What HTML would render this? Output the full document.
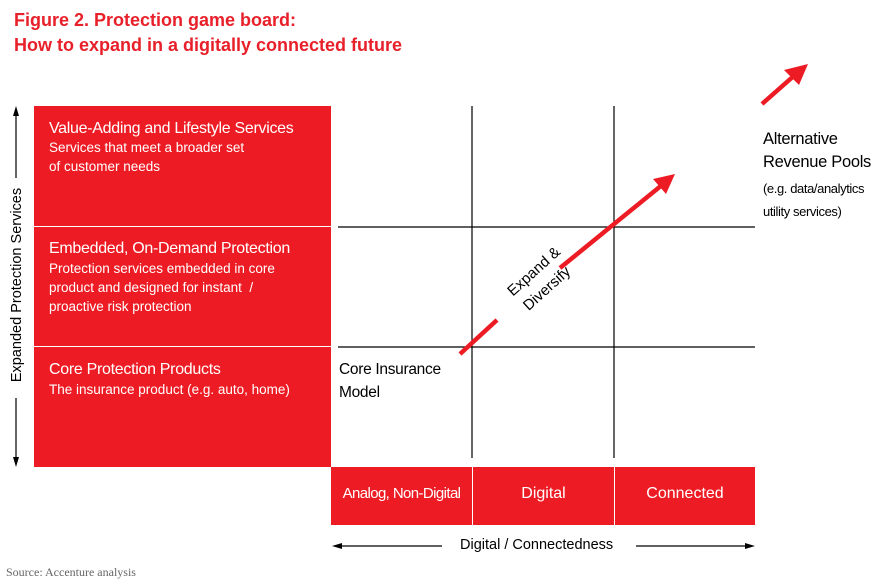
<!DOCTYPE html>
<html><head><meta charset="utf-8"><style>
body{margin:0;width:886px;height:584px;background:#fff;position:relative;overflow:hidden;font-family:"Liberation Sans",sans-serif;}
.a{position:absolute;white-space:nowrap}
.t{color:#e8202a;font-weight:bold;font-size:18px;left:14px}
.w{color:#fff}
.h{font-size:16px;letter-spacing:-0.3px}
.s{font-size:13.5px;line-height:19px}
</style></head><body>
<div class="a t" style="top:10px">Figure 2. Protection game board:</div>
<div class="a t" style="top:35px">How to expand in a digitally connected future</div>

<div class="a" style="left:34px;top:106px;width:297px;height:361px;background:#ed1c24"></div>
<div class="a" style="left:34px;top:226px;width:297px;height:1px;background:#fff"></div>
<div class="a" style="left:34px;top:346px;width:297px;height:1px;background:#fff"></div>
<div class="a w h" style="left:49px;top:120px">Value-Adding and Lifestyle Services</div>
<div class="a w s" style="left:49px;top:138px">Services that meet a broader set<br>of customer needs</div>
<div class="a w h" style="left:49px;top:240px">Embedded, On-Demand Protection</div>
<div class="a w s" style="left:49px;top:259px">Protection services embedded in core<br>product and designed for instant &nbsp;/<br>proactive risk protection</div>
<div class="a w h" style="left:49px;top:361px">Core Protection Products</div>
<div class="a w s" style="left:49px;top:380px">The insurance product (e.g. auto, home)</div>

<div class="a" style="left:331px;top:467px;width:424px;height:58px;background:#ed1c24"></div>
<div class="a" style="left:472px;top:467px;width:1px;height:58px;background:#fff"></div>
<div class="a" style="left:614px;top:467px;width:1px;height:58px;background:#fff"></div>
<div class="a w" style="left:331px;top:485px;width:141px;text-align:center;font-size:15px;letter-spacing:-0.6px">Analog, Non-Digital</div>
<div class="a w" style="left:473px;top:485px;width:141px;text-align:center;font-size:16px">Digital</div>
<div class="a w" style="left:615px;top:485px;width:140px;text-align:center;font-size:16px">Connected</div>

<svg class="a" style="left:0;top:0" width="886" height="584">
<g stroke="#000" stroke-width="1.2">
<line x1="472" y1="106" x2="472" y2="458"/><line x1="614" y1="106" x2="614" y2="458"/>
<line x1="338" y1="227" x2="755" y2="227"/><line x1="338" y1="347" x2="755" y2="347"/>
<line x1="16" y1="112" x2="16" y2="178"/><line x1="16" y1="398" x2="16" y2="462"/>
<line x1="338" y1="546" x2="442" y2="546"/><line x1="636" y1="546" x2="750" y2="546"/>
</g>
<polygon points="16,106 13,116 19,116"/><polygon points="16,467 13,457 19,457"/>
<polygon points="332,546 342,543 342,549"/><polygon points="755,546 745,543 745,549"/>
<g stroke="#ed1c24" stroke-width="4.5">
<line x1="460" y1="354" x2="497" y2="320"/><line x1="560" y1="268" x2="662" y2="185"/>
<line x1="762" y1="104" x2="796" y2="74"/>
</g>
<g fill="#ed1c24">
<polygon points="675,174 666,194 653,179"/>
<polygon points="808,64 784,70 799,85"/>
</g>
<text x="0" y="0" transform="translate(21,285) rotate(-90)" text-anchor="middle" font-size="14.5" font-family="Liberation Sans">Expanded Protection Services</text>
<text transform="translate(537,275) rotate(-42)" text-anchor="middle" font-size="15" font-family="Liberation Sans">Expand &amp;</text>
<text transform="translate(550,292) rotate(-42)" text-anchor="middle" font-size="15" font-family="Liberation Sans">Diversify</text>
</svg>

<div class="a" style="left:460px;top:537px;font-size:14.5px">Digital / Connectedness</div>
<div class="a" style="left:339px;top:358px;font-size:15.5px;line-height:23px;letter-spacing:-0.3px">Core Insurance<br>Model</div>
<div class="a" style="left:763px;top:128px;font-size:16.5px;line-height:23px;letter-spacing:-0.3px">Alternative<br>Revenue Pools</div>
<div class="a" style="left:763px;top:177px;font-size:13px;line-height:23px;letter-spacing:-0.4px">(e.g. data/analytics<br>utility services)</div>
<div class="a" style="left:6px;top:565px;font-size:12px;color:#666;font-family:'Liberation Serif',serif">Source: Accenture analysis</div>
</body></html>
